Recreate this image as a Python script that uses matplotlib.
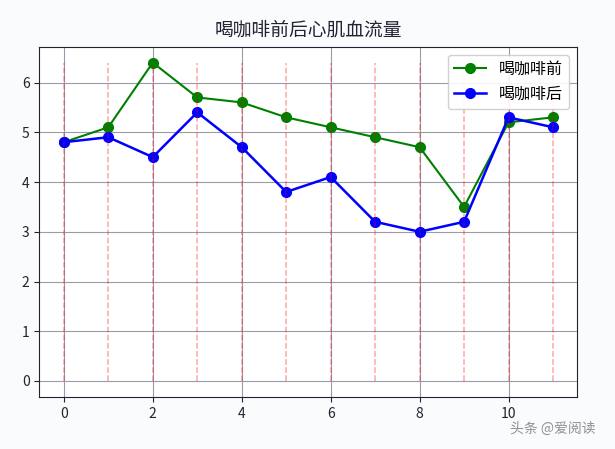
import matplotlib
matplotlib.use("Agg")
import matplotlib.pyplot as plt

plt.rcParams['font.family'] = ['Noto Sans CJK SC', 'DejaVu Sans']
plt.rcParams['axes.unicode_minus'] = False

x = list(range(12))
before = [4.8, 5.1, 6.4, 5.7, 5.6, 5.3, 5.1, 4.9, 4.7, 3.5, 5.2, 5.3]
after = [4.8, 4.9, 4.5, 5.4, 4.7, 3.8, 4.1, 3.2, 3.0, 3.2, 5.3, 5.1]
title = "喝咖啡前后心肌血流量"
labels = ["喝咖啡前", "喝咖啡后"]

fig = plt.figure(figsize=(6.15, 4.49), dpi=100, facecolor='#fafbfd')
ax = fig.add_axes([0.064, 0.116, 0.875, 0.78])
ax.set_facecolor('#ffffff')

ax.plot(x, before, color='green', marker='o', markersize=7, linewidth=1.5, label=labels[0])
ax.plot(x, after, color='blue', marker='o', markersize=7, linewidth=1.8, label=labels[1])
ax.vlines(x, 0, max(before), colors='r', linestyles='dashed', alpha=0.35, linewidth=1.1)
ax.grid(True, color='#9a9aaa', linewidth=0.8)
ax.set_axisbelow(True)

ax.set_title(title, fontsize=13.5, color='#222233', pad=8)
ax.legend(loc='upper right', fontsize=11.5, framealpha=0.9)
ax.tick_params(labelsize=10, colors='#222233')
for s in ax.spines.values():
    s.set_color('#222233')

fig.text(0.83, 0.035, "头条 @爱阅读", fontsize=10, color='#777777', alpha=0.8)

fig.savefig("out.png", dpi=100, facecolor=fig.get_facecolor())
